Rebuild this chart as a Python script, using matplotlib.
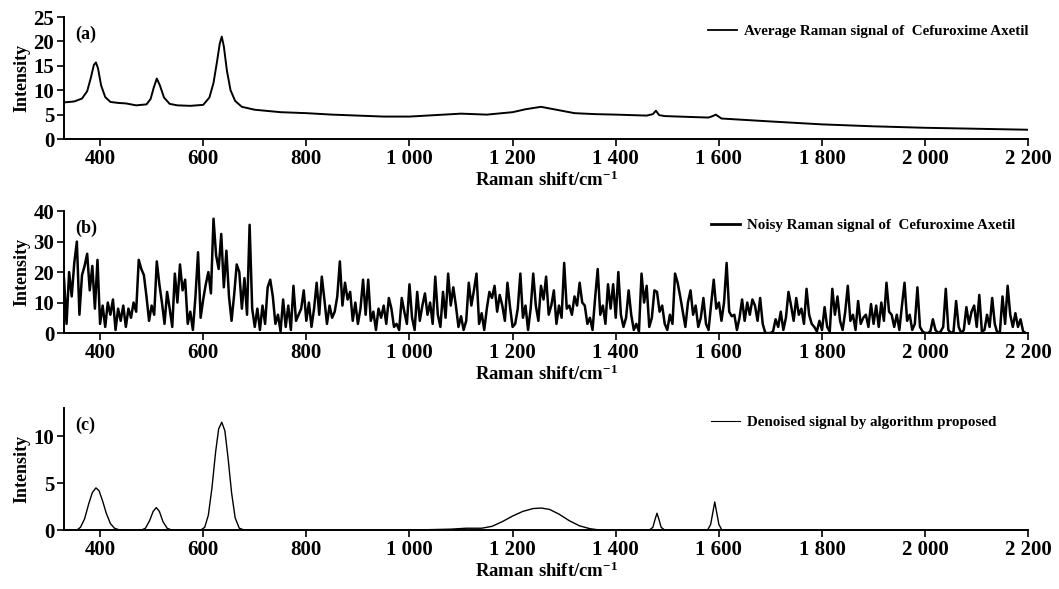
import numpy as np
import matplotlib.pyplot as plt

plt.rcParams['font.family'] = ['Liberation Serif', 'DejaVu Serif']
plt.rcParams['font.weight'] = 'bold'
plt.rcParams['mathtext.fontset'] = 'custom'
plt.rcParams['mathtext.rm'] = 'Liberation Serif:bold'
plt.rcParams['mathtext.default'] = 'rm'

# x ticks shared by all panels
tick_values = [400, 600, 800, 1000, 1200, 1400, 1600, 1800, 2000, 2200]
tick_labels = ['400', '600', '800', '1 000', '1 200', '1 400', '1 600', '1 800', '2 000', '2 200']

# (a) average Raman spectrum
avg_shift = [330, 350, 365, 375, 382, 388, 392, 396, 402, 410, 420, 435, 450, 470, 490, 498,
             504, 510, 516, 524, 535, 550, 575, 600, 612, 620, 627, 632, 636, 640, 646, 653,
             662, 675, 700, 750, 800, 850, 900, 950, 1000, 1050, 1100, 1150, 1200, 1225,
             1255, 1285, 1320, 1360, 1400, 1460, 1472, 1478, 1484, 1495, 1550, 1580, 1588,
             1594, 1605, 1700, 1800, 1900, 2000, 2100, 2200]
avg_intensity = [7.5, 7.7, 8.3, 9.8, 12.5, 15.2, 15.7, 14.5, 11.0, 8.6, 7.6, 7.4, 7.3, 6.9, 7.1, 8.2,
                 10.5, 12.4, 11.0, 8.5, 7.2, 6.9, 6.8, 7.0, 8.5, 11.5, 16.0, 19.5, 21.0, 19.0, 14.0, 10.0,
                 7.8, 6.6, 6.0, 5.5, 5.3, 5.0, 4.8, 4.6, 4.6, 4.9, 5.2, 5.0, 5.5, 6.1,
                 6.6, 6.0, 5.3, 5.1, 5.0, 4.8, 5.1, 5.8, 4.9, 4.7, 4.5, 4.4, 4.7,
                 5.0, 4.2, 3.6, 3.0, 2.6, 2.3, 2.1, 1.9]

# (b) noisy Raman spectrum, sampled every 5 cm-1 from 330
noisy_start = 330
noisy_step = 5
noisy_intensity = [
    18, 3, 20, 12, 23, 30, 6, 19, 22, 26, 14, 22, 8, 24,
    3, 9, 2, 10, 6, 11, 1, 8, 4, 9, 2, 8, 5, 10, 7, 24, 21, 19, 12, 4,
    9, 6, 23.5, 16, 10, 3, 13.5, 8, 2, 19.5, 10, 22.5, 14, 17.5, 3, 7, 1, 12, 26.5, 5,
    11, 16, 20, 13, 37.5, 25.5, 21, 32.5, 15, 27, 12, 4, 12.5, 22.5, 20, 8, 18, 6, 35.5, 8,
    2, 8, 1, 9, 3, 15, 17.5, 12, 3, 6, 0.5, 11, 2, 9, 1, 15.5, 4, 6, 8, 14,
    4, 10, 2, 8, 16.5, 6, 18.5, 11, 3, 9, 5, 7, 12, 23.5, 9, 16.5, 11, 13.5, 4, 10,
    3, 8, 17.5, 6, 17.5, 4, 7, 1, 8, 5, 9, 3, 11.5, 8, 2, 3, 1, 11.5, 7, 3,
    16, 5, 1, 13.5, 4, 9, 13, 6, 10, 3, 18.5, 6, 2, 13.5, 5, 19.5, 9, 15, 9, 2,
    5.5, 1, 4, 16.5, 9, 14, 19.5, 3, 6.5, 1, 8, 13.5, 11.5, 15.5, 7, 12.5, 9, 4, 16.5, 8.5,
    2, 3, 8, 19.5, 5, 9, 1, 8, 19.5, 9, 4, 15.5, 11, 18.5, 6, 9, 14, 3, 9, 5,
    23, 8, 9, 6, 12, 9, 16.5, 10, 9, 3, 5, 1, 11.5, 21, 6, 9, 3, 16, 8, 16,
    5, 20, 6, 2, 5, 14, 6, 1, 3, 0.5, 19.5, 10, 15.5, 2, 5, 14, 13.5, 7, 9, 3,
    1, 6, 3, 19.5, 16.5, 12, 7, 2, 10, 14, 6, 9, 2, 5, 11.5, 3, 1, 9.5, 17.5, 8,
    10, 4, 10, 23, 7, 5.5, 6, 1, 5, 11, 4, 10, 6, 11, 9, 4, 11.5, 3, 0, 0,
    0, 0.5, 4.5, 2, 7, 1, 5, 13.5, 9, 4, 11.5, 6, 8, 3, 14.5, 6, 3, 2, 0.5, 4,
    1, 8.5, 2, 0.5, 14.5, 6, 12, 4, 1, 7, 15.5, 4, 6, 1, 10.5, 3, 5, 6, 2, 9.5,
    3, 9, 2, 10, 4, 16.5, 7, 6, 2, 6, 1, 9, 16.5, 4, 6, 1, 3, 15, 2, 0.5,
    0, 0, 0.5, 4.5, 1, 0, 0.5, 2, 14.5, 1, 0, 0.5, 10.5, 2, 0, 1, 8.5, 3, 7, 9,
    2, 12.5, 0.5, 1, 6, 2, 11.5, 3, 0, 0.5, 12, 3, 15.5, 6, 2, 6.5, 2, 4.5, 0.5, 0,
]
noisy_shift = [noisy_start + noisy_step * i for i in range(len(noisy_intensity))]

# (c) denoised spectrum
den_shift = [330, 355, 362, 370, 378, 385, 392, 398, 405, 412, 420, 428, 436, 445,
             480, 488, 496, 503, 509, 515, 522, 530, 538, 545,
             595, 603, 610, 617, 624, 630, 636, 642, 648, 655, 662, 670, 680,
             1000, 1080, 1110, 1140, 1160, 1180, 1200, 1220, 1240, 1256, 1272, 1290, 1310,
             1330, 1350, 1370, 1465, 1472, 1476, 1480, 1484, 1488, 1495,
             1578, 1584, 1588, 1592, 1596, 1600, 1606, 1700, 2200]
den_intensity = [0, 0, 0.3, 1.2, 2.8, 4.0, 4.5, 4.2, 3.1, 1.8, 0.7, 0.2, 0.05, 0,
                 0, 0.2, 1.0, 2.0, 2.4, 2.0, 0.9, 0.2, 0.03, 0,
                 0, 0.3, 1.6, 4.5, 8.3, 10.8, 11.5, 10.6, 7.8, 4.0, 1.3, 0.2, 0,
                 0, 0.1, 0.2, 0.2, 0.4, 0.9, 1.5, 2.0, 2.3, 2.35, 2.2, 1.7, 1.0,
                 0.45, 0.15, 0, 0, 0.3, 1.1, 1.8, 1.1, 0.3, 0,
                 0, 0.6, 1.8, 3.0, 1.8, 0.6, 0, 0, 0]

panels = [
    dict(x=avg_shift, y=avg_intensity, ylim=(0, 25), yticks=[0, 5, 10, 15, 20, 25],
         tag='(a)', label='Average Raman signal of  Cefuroxime Axetil', lw=1.4,
         rect=[0.0604, 0.764, 0.9106, 0.207], leg_lw=1.3, leg_x=0.662),
    dict(x=noisy_shift, y=noisy_intensity, ylim=(0, 40), yticks=[0, 10, 20, 30, 40],
         tag='(b)', label='Noisy Raman signal of  Cefuroxime Axetil', lw=1.8,
         rect=[0.0604, 0.4346, 0.9106, 0.207], leg_lw=2.0, leg_x=0.665),
    dict(x=den_shift, y=den_intensity, ylim=(0, 13), yticks=[0, 5, 10],
         tag='(c)', label='Denoised signal by algorithm proposed', lw=1.0,
         rect=[0.0604, 0.100, 0.9106, 0.207], leg_lw=0.8, leg_x=0.665),
]

fig = plt.figure(figsize=(10.59, 5.89), dpi=100)

for p in panels:
    ax = fig.add_axes(p['rect'])
    ax.plot(p['x'], p['y'], color='black', lw=p['lw'], label=p['label'])
    ax.set_xlim(330, 2200)
    ax.set_ylim(*p['ylim'])
    ax.set_xticks(tick_values)
    ax.set_xticklabels(tick_labels)
    ax.set_yticks(p['yticks'])
    ax.spines['top'].set_visible(False)
    ax.spines['right'].set_visible(False)
    ax.spines['left'].set_linewidth(1.4)
    ax.spines['bottom'].set_linewidth(1.4)
    ax.tick_params(axis='both', direction='out', length=5, width=1.2, labelsize=15, pad=2)
    ax.set_xlabel('Raman shift/cm$^{-1}$', fontsize=13.5, fontweight='bold', labelpad=1)
    ax.set_ylabel('Intensity', fontsize=13, fontweight='bold', labelpad=2)
    ax.text(0.012, 0.93, p['tag'], transform=ax.transAxes, fontsize=13,
            fontweight='bold', va='top', ha='left')
    leg = ax.legend(loc='upper left', bbox_to_anchor=(p['leg_x'], 0.99), frameon=False,
                    handlelength=1.9, handletextpad=0.5, borderaxespad=0,
                    prop={'size': 10.8, 'weight': 'bold'})
    for h in leg.get_lines():
        h.set_linewidth(p['leg_lw'])

fig.savefig('out.png', dpi=100)
